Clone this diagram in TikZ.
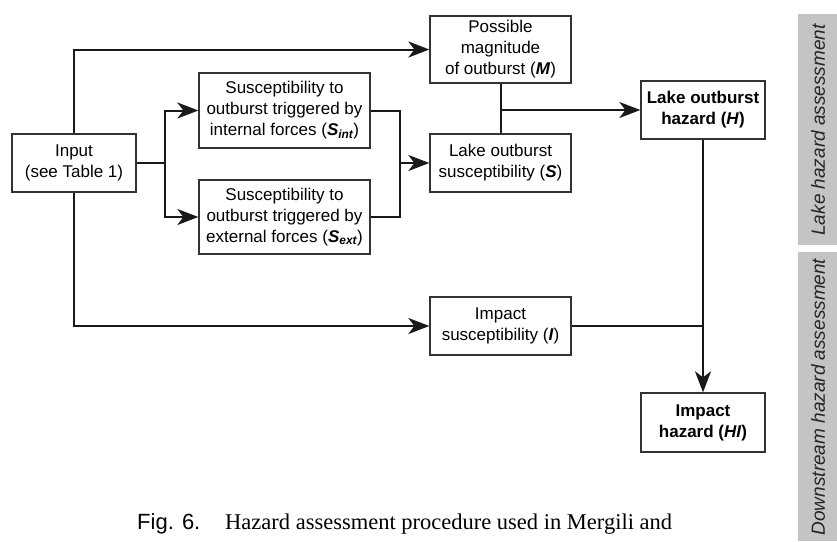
\documentclass[tikz,border=0pt]{standalone}
\usepackage{fontspec}
\setmainfont{Liberation Serif}
\setsansfont{Liberation Sans}
\usepackage{tikz}
\usetikzlibrary{positioning, arrows.meta}

\begin{document}
\begin{tikzpicture}[x=1pt, y=-1pt,
    box/.style={draw=black!80, line width=1.3pt, fill=white, inner sep=0pt, align=center,
        font=\sffamily\fontsize{17}{21}\selectfont},
    link/.style={line width=2pt, draw=black!90},
    arrow/.style={link, -{Stealth[length=21pt, width=16pt, inset=6pt]}}, % Arrow tip style
    band/.style={fill=black!23, draw=none},
    bandtext/.style={rotate=90, text=black!85, font=\sffamily\itshape\fontsize{19}{19}\selectfont}]
    \useasboundingbox (0,0) rectangle (837,541);

    % Boxes of the procedure
    \node[box, minimum width=124pt, minimum height=58pt] (Input) at (74,163) {Input\\(see Table 1)};
    \node[box, minimum width=171pt, minimum height=75pt] (Sint) at (284.5,110.5) {Susceptibility to\\outburst triggered by\\internal forces (\textbf{\textit{S\textsubscript{int}}})};
    \node[box, minimum width=171pt, minimum height=74pt] (Sext) at (284.5,217) {Susceptibility to\\outburst triggered by\\external forces (\textbf{\textit{S\textsubscript{ext}}})};
    \node[box, minimum width=141pt, minimum height=67pt] (M) at (500.5,49.5) {Possible\\magnitude\\of outburst (\textbf{\textit{M}})};
    \node[box, minimum width=141pt, minimum height=58pt] (S) at (500.5,163) {Lake outburst\\susceptibility (\textbf{\textit{S}})};
    \node[box, minimum width=124pt, minimum height=58pt] (H) at (703,110) {\textbf{Lake outburst}\\\textbf{hazard (\textit{H})}};
    \node[box, minimum width=141pt, minimum height=58pt] (I) at (500.5,326) {Impact\\susceptibility (\textbf{\textit{I}})};
    \node[box, minimum width=124pt, minimum height=59pt] (HI) at (703,422.5) {\textbf{Impact}\\\textbf{hazard (\textit{HI})}};

    % Branch and merge points
    \coordinate (Split) at (165,163);
    \coordinate (Merge) at (400,163);
    \coordinate (Join) at (M.south |- H.west);
    \coordinate (Meet) at (H.south |- I.east);

    % Connectors
    \draw[arrow] (Input.north) |- (M.west);
    \draw[link] (Input.east) -- (Split);
    \draw[arrow] (Split) |- (Sint.west);
    \draw[arrow] (Split) |- (Sext.west);
    \draw[link] (Sint.east) -| (Merge);
    \draw[link] (Sext.east) -| (Merge);
    \draw[arrow] (Merge) -- (S.west);
    \draw[link] (M.south) -- (S.north);
    \draw[arrow] (Join) -- (H.west);
    \draw[arrow] (Input.south) |- (I.west);
    \draw[link] (I.east) -- (Meet);
    \draw[arrow] (H.south) -- (HI.north);

    % Side bands
    \fill[band] (798,14) rectangle (837,245);
    \fill[band] (798,252) rectangle (837,541);
    \node[bandtext] (BandLake) at (818,130) {Lake hazard assessment};
    \node[bandtext] (BandDown) at (818,397) {Downstream hazard assessment};

    % Caption
    \node[anchor=base west, inner sep=0pt, font=\sffamily\fontsize{22}{22}\selectfont] (FigNo) at (137,529) {Fig. 6.};
    \node[anchor=base west, inner sep=0pt, font=\rmfamily\fontsize{22.5}{22.5}\selectfont] (Caption) at (225,529) {Hazard assessment procedure used in Mergili and};
\end{tikzpicture}
\end{document}
